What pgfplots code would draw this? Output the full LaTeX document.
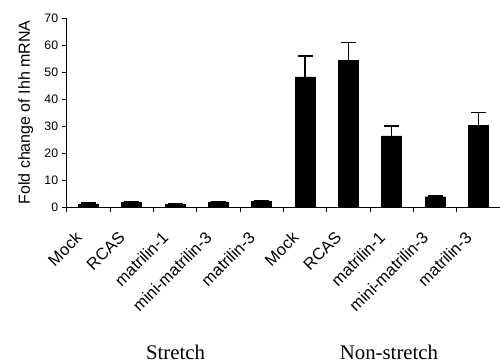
\documentclass[border=0pt]{standalone}
\usepackage{pgfplots}
\pgfplotsset{compat=1.18}
\usepackage{fontspec}
\setmainfont{Liberation Sans}
\newfontfamily\timesfont{Liberation Serif}
\begin{document}
\begin{tikzpicture}
\useasboundingbox (-66.7bp,-155bp) rectangle (433.3bp,207bp);
\begin{axis}[
  at={(0,0)}, anchor=south west,
  scale only axis,
  width=433.3bp, height=189bp,
  xmin=-0.5, xmax=9.5,
  ymin=0, ymax=70,
  axis x line=bottom, axis y line=left,
  axis line style={-, line width=0.8bp},
  ytick={0,10,...,70},
  xtick={0,...,9},
  xticklabels={Mock,RCAS,matrilin-1,mini-matrilin-3,matrilin-3,Mock,RCAS,matrilin-1,mini-matrilin-3,matrilin-3},
  minor xtick={-0.5,0.5,...,9.5},
  major x tick style={draw=none},
  tick align=outside,
  major tick length=5bp, minor tick length=5bp,
  tick style={line width=0.8bp, black},
  xticklabel style={xshift=-14bp, yshift=-17bp, rotate=45, anchor=north east, font=\fontsize{16.5bp}{18bp}\selectfont, inner sep=1bp},
  yticklabel style={font=\fontsize{12.3bp}{14bp}\selectfont},
  /pgf/number format/assume math mode=true,
  ylabel={Fold change of Ihh mRNA},
  ylabel style={font=\fontsize{16bp}{18bp}\selectfont, yshift=4.5bp},
  ybar, bar width=20bp,
  clip=false,
]
\addplot[fill=black, draw=black,
  error bars/.cd, y dir=plus, y explicit,
  error bar style={line width=1.6bp, black},
  error mark options={rotate=90, mark size=7.5bp, line width=1.6bp, black}]
  coordinates {
  (0,1.2) +- (0,0.2)
  (1,1.8) +- (0,0.2)
  (2,1.0) +- (0,0.1)
  (3,1.9) +- (0,0.2)
  (4,2.1) +- (0,0.3)
  (5,48.2) +- (0,7.7)
  (6,54.2) +- (0,6.7)
  (7,26.3) +- (0,3.6)
  (8,3.8) +- (0,0.3)
  (9,30.3) +- (0,4.7)
  };
\end{axis}
\node[anchor=base, inner sep=0pt, font=\timesfont\fontsize{20.8bp}{24bp}\selectfont] at (108.8bp,-152.5bp) {Stretch};
\node[anchor=base, inner sep=0pt, font=\timesfont\fontsize{20.8bp}{24bp}\selectfont] at (322.3bp,-152.5bp) {Non-stretch};
\end{tikzpicture}
\end{document}
